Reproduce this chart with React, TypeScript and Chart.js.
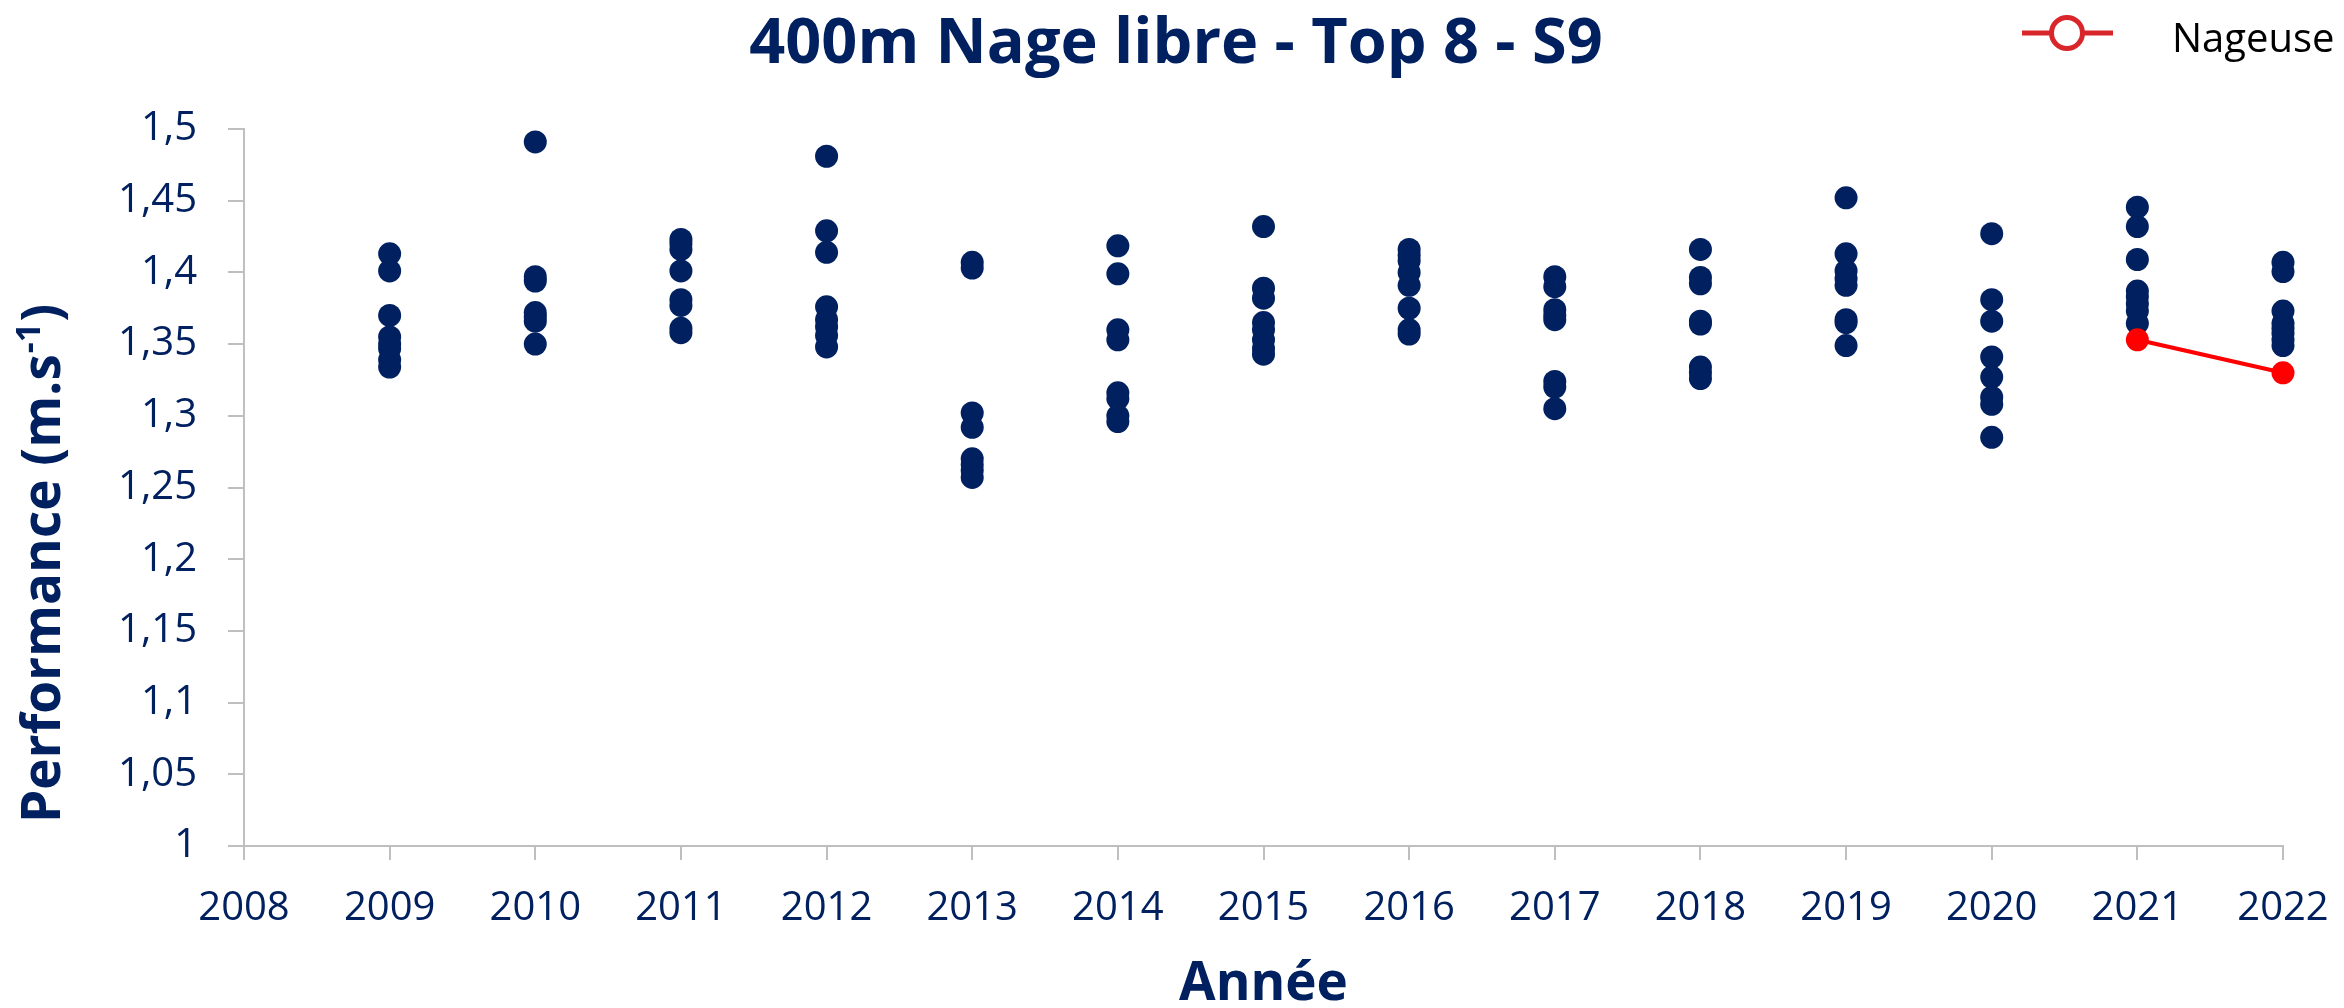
import React, { useEffect, useRef } from "react";
import { Chart, registerables } from "chart.js";

Chart.register(...registerables);

// ---------- Texts ----------
const TITLE = "400m Nage libre - Top 8 - S9";
const X_TITLE = "Année";
const Y_TITLE_MAIN = "Performance (m.s";
const Y_TITLE_SUP = "-1";
const Y_TITLE_END = ")";
const LEGEND_LABEL = "Nageuse";

// ---------- Axis ranges ----------
const X_MIN = 2008;
const X_MAX = 2022;
const Y_MIN = 1;
const Y_MAX = 1.5;
const Y_STEP = 0.05;

// ---------- Data: Top 8 performances (m/s) per year ----------
const years = [2009, 2010, 2011, 2012, 2013, 2014, 2015, 2016, 2017, 2018, 2019, 2020, 2021, 2022];
const top8_2009 = [1.413, 1.401, 1.37, 1.355, 1.35, 1.347, 1.339, 1.334];
const top8_2010 = [1.491, 1.397, 1.394, 1.372, 1.369, 1.366, 1.35];
const top8_2011 = [1.423, 1.42, 1.416, 1.401, 1.381, 1.377, 1.361, 1.358];
const top8_2012 = [1.481, 1.429, 1.414, 1.376, 1.367, 1.362, 1.356, 1.348];
const top8_2013 = [1.407, 1.403, 1.302, 1.292, 1.27, 1.266, 1.262, 1.257];
const top8_2014 = [1.4185, 1.399, 1.36, 1.353, 1.316, 1.312, 1.3, 1.296];
const top8_2015 = [1.432, 1.389, 1.382, 1.365, 1.36, 1.353, 1.347, 1.343];
const top8_2016 = [1.416, 1.412, 1.408, 1.4, 1.391, 1.375, 1.36, 1.357];
const top8_2017 = [1.397, 1.39, 1.374, 1.37, 1.367, 1.324, 1.32, 1.305];
const top8_2018 = [1.416, 1.3965, 1.392, 1.366, 1.364, 1.334, 1.33, 1.326];
const top8_2019 = [1.452, 1.413, 1.401, 1.3955, 1.391, 1.367, 1.365, 1.349];
const top8_2020 = [1.427, 1.381, 1.366, 1.341, 1.327, 1.313, 1.308, 1.285];
const top8_2021 = [1.4455, 1.432, 1.409, 1.387, 1.383, 1.378, 1.373, 1.3645];
const top8_2022 = [1.407, 1.4006, 1.373, 1.3645, 1.361, 1.3575, 1.353, 1.349];
const top8ByYear = [
  top8_2009, top8_2010, top8_2011, top8_2012, top8_2013, top8_2014, top8_2015,
  top8_2016, top8_2017, top8_2018, top8_2019, top8_2020, top8_2021, top8_2022,
];

// ---------- Data: the swimmer ----------
const nageuseYears = [2021, 2022];
const nageuseValues = [1.353, 1.33];

// ---------- Styles ----------
const NAVY = "#002060";
const RED = "#ff0000";
const LEGEND_RED = "#d9262b";
const AXIS_GRAY = "#bfbfbf";
const FONT = '"Open Sans", "Noto Sans", sans-serif';

const overlayPlugin = {
  id: "overlayTexts",
  afterDraw(chart: any) {
    const ctx: CanvasRenderingContext2D = chart.ctx;
    const ca = chart.chartArea;
    ctx.save();

    // Title
    ctx.fillStyle = NAVY;
    ctx.font = `bold 63px ${FONT}`;
    ctx.textAlign = "center";
    ctx.textBaseline = "alphabetic";
    ctx.fillText(TITLE, 1176, 63);

    // X axis title
    ctx.font = `bold 53px ${FONT}`;
    ctx.fillText(X_TITLE, (ca.left + ca.right) / 2, 1000);

    // Y axis title (rotated, with superscript)
    ctx.save();
    ctx.translate(60, 823);
    ctx.rotate(-Math.PI / 2);
    ctx.textAlign = "left";
    ctx.font = `bold 53px ${FONT}`;
    ctx.fillText(Y_TITLE_MAIN, 0, 0);
    let w = ctx.measureText(Y_TITLE_MAIN).width;
    ctx.font = `bold 34px ${FONT}`;
    ctx.fillText(Y_TITLE_SUP, w + 1, -20);
    w += ctx.measureText(Y_TITLE_SUP).width + 2;
    ctx.font = `bold 53px ${FONT}`;
    ctx.fillText(Y_TITLE_END, w, 0);
    ctx.restore();

    // Legend
    ctx.strokeStyle = LEGEND_RED;
    ctx.lineWidth = 5;
    ctx.beginPath();
    ctx.moveTo(2022, 33);
    ctx.lineTo(2113, 33);
    ctx.stroke();
    ctx.beginPath();
    ctx.arc(2067, 33, 15.5, 0, Math.PI * 2);
    ctx.fillStyle = "#ffffff";
    ctx.fill();
    ctx.stroke();
    ctx.fillStyle = "#000000";
    ctx.font = `40px ${FONT}`;
    ctx.textAlign = "left";
    ctx.fillText(LEGEND_LABEL, 2172, 52);

    ctx.restore();
  },
};

export default function App() {
  const canvasRef = useRef<HTMLCanvasElement | null>(null);

  useEffect(() => {
    if (!canvasRef.current) return;

    const top8Points: { x: number; y: number }[] = [];
    years.forEach((yr, i) => {
      top8ByYear[i].forEach((v) => top8Points.push({ x: yr, y: v }));
    });
    const nageusePoints = nageuseYears.map((yr, i) => ({ x: yr, y: nageuseValues[i] }));

    const chart = new Chart(canvasRef.current, {
      type: "scatter",
      data: {
        datasets: [
          {
            label: LEGEND_LABEL,
            data: nageusePoints,
            showLine: true,
            clip: false,
            borderColor: RED,
            backgroundColor: RED,
            borderWidth: 4,
            pointRadius: 11.5,
            pointHoverRadius: 11.5,
            pointBorderWidth: 0,
            pointBackgroundColor: RED,
          },
          {
            label: "Top 8",
            data: top8Points,
            showLine: false,
            clip: false,
            backgroundColor: NAVY,
            borderColor: NAVY,
            pointRadius: 11.5,
            pointHoverRadius: 11.5,
            pointBorderWidth: 0,
          },
        ],
      },
      options: {
        responsive: false,
        animation: false,
        events: [],
        devicePixelRatio: 1,
        layout: { padding: { top: 129, right: 61, left: 0, bottom: 0 } },
        plugins: {
          legend: { display: false },
          title: { display: false },
          tooltip: { enabled: false },
        },
        scales: {
          x: {
            type: "linear",
            min: X_MIN,
            max: X_MAX,
            offset: false,
            afterFit: (scale: any) => {
              scale.height = 162;
              scale.paddingLeft = 0;
              scale.paddingRight = 0;
            },
            grid: {
              display: true,
              drawOnChartArea: false,
              drawTicks: true,
              tickLength: 14,
              color: AXIS_GRAY,
              lineWidth: 2,
            },
            border: { display: true, color: AXIS_GRAY, width: 2 },
            ticks: {
              stepSize: 1,
              autoSkip: false,
              maxRotation: 0,
              padding: 25,
              color: NAVY,
              font: { family: FONT, size: 40 },
              callback: (v: any) => String(v),
            },
          },
          y: {
            type: "linear",
            min: Y_MIN,
            max: Y_MAX,
            afterFit: (scale: any) => {
              scale.width = 244;
            },
            grid: {
              display: true,
              drawOnChartArea: false,
              drawTicks: true,
              tickLength: 16,
              color: AXIS_GRAY,
              lineWidth: 2,
            },
            border: { display: true, color: AXIS_GRAY, width: 2 },
            ticks: {
              stepSize: Y_STEP,
              autoSkip: false,
              padding: 31,
              color: NAVY,
              font: { family: FONT, size: 40 },
              callback: (v: any) => String(Math.round(Number(v) * 100) / 100).replace(".", ","),
            },
          },
        },
      },
      plugins: [overlayPlugin],
    } as any);

    return () => chart.destroy();
  }, []);

  return (
    <div style={{ position: "absolute", left: 0, top: 0, width: 2344, height: 1008, background: "#ffffff" }}>
      <canvas ref={canvasRef} width={2344} height={1008} style={{ display: "block" }} />
    </div>
  );
}
